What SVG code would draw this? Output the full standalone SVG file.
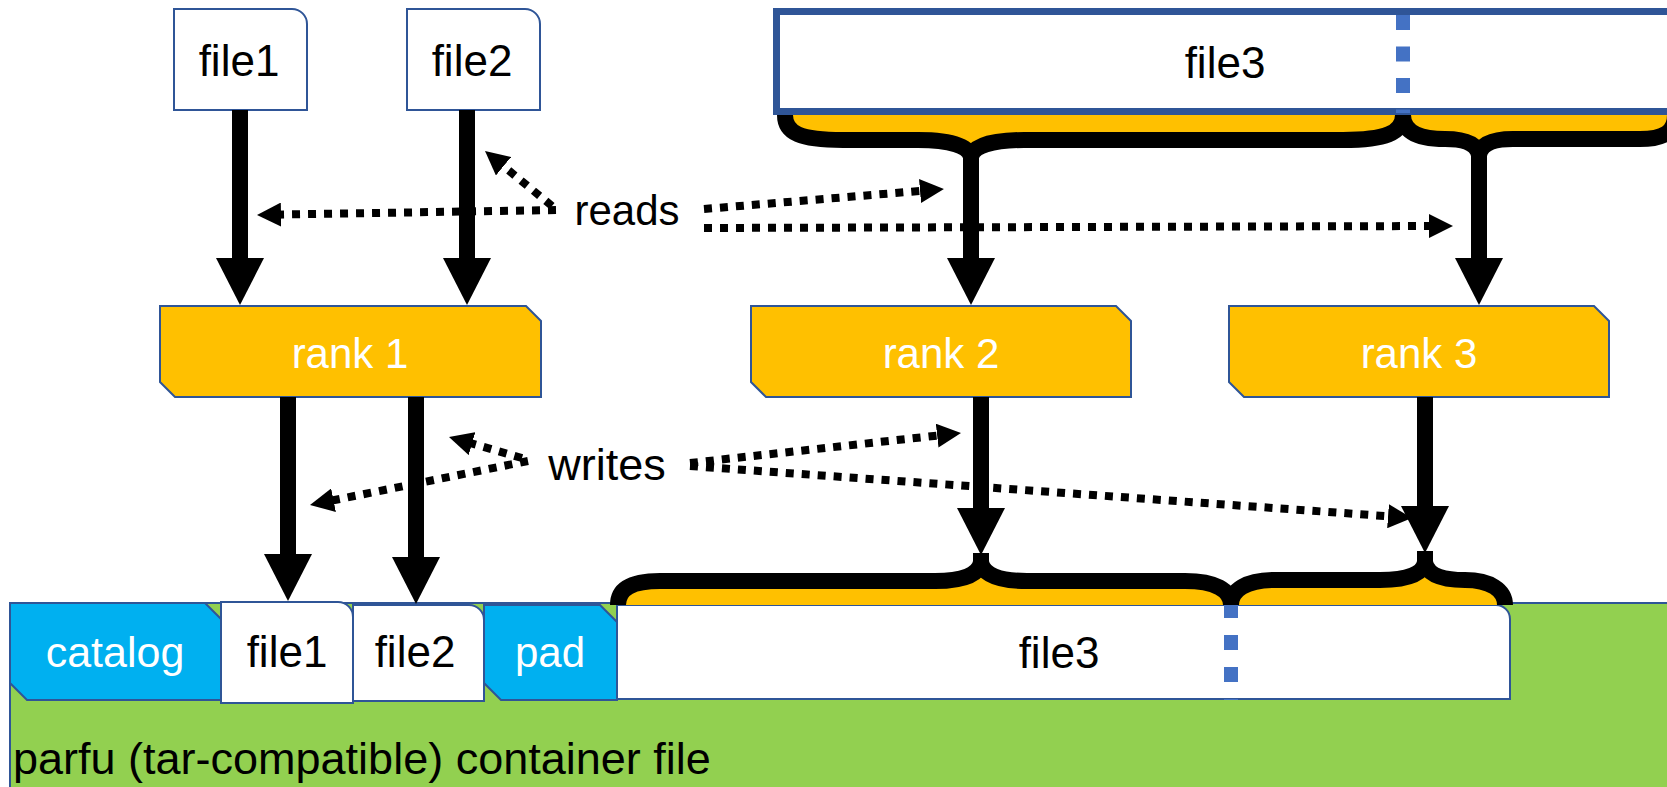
<svg xmlns="http://www.w3.org/2000/svg" width="1667" height="787" viewBox="0 0 1667 787">
  <style>
    text { font-family: "Liberation Sans", Arial, sans-serif; text-anchor: middle; }
    .lbl { fill: #000; }
    .wlbl { fill: #fff; }
    .file { fill: #fff; stroke: #2F5597; stroke-width: 2; }
    .rank { fill: #FFC000; stroke: #2F5597; stroke-width: 2; }
    .blue { fill: #00B0F0; stroke: #2F5597; stroke-width: 2; }
    .stem { stroke: #000; stroke-width: 16; fill: none; stroke-linecap: butt; }
    .brace { stroke: #000; stroke-width: 16; fill: none; stroke-linecap: butt; }
    .dot { stroke: #000; stroke-width: 8; stroke-dasharray: 8 8; fill: none; marker-end: url(#dh); }
    .dash { stroke: #4472C4; stroke-width: 14; }
  </style>
  <defs>
    <marker id="dh" markerUnits="userSpaceOnUse" markerWidth="24" markerHeight="24" viewBox="0 0 24 24" refX="9" refY="12" orient="auto">
      <path d="M0,0 L24,12 L0,24 Z" fill="#000"/>
    </marker>
  </defs>
  <rect width="1667" height="787" fill="#fff"/>

  <!-- container -->
  <g id="container">
    <rect x="10" y="603" width="1680" height="200" fill="#92D050" stroke="#2F5597" stroke-width="2"/>
    <text x="13" y="774" font-size="45" style="text-anchor:start">parfu (tar-compatible) container file</text>
  </g>

  <g id="catalog">
    <polygon class="blue" points="10,603 205,603 221,619 221,700 27,700 10,683"/>
    <text class="wlbl" x="115" y="667" font-size="43">catalog</text>
  </g>
  <g id="file1-out">
    <path class="file" d="M221,602 H338 A15,15 0 0 1 353,617 V703 H221 Z"/>
    <text class="lbl" x="287" y="667" font-size="44">file1</text>
  </g>
  <g id="file2-out">
    <path class="file" d="M353,605 H469 A15,15 0 0 1 484,620 V701 H353 Z"/>
    <text class="lbl" x="415" y="667" font-size="44">file2</text>
  </g>
  <g id="pad">
    <polygon class="blue" points="484,605 600,605 617,622 617,700 501,700 484,683"/>
    <text class="wlbl" x="550" y="667" font-size="42">pad</text>
  </g>
  <g id="file3-out">
    <path class="file" d="M617,605 H1496 A14,14 0 0 1 1510,619 V699 H617 Z"/>
    <line class="dash" x1="1231" y1="603" x2="1231" y2="700" stroke-dasharray="15 17"/>
    <text class="lbl" x="1059" y="668" font-size="44">file3</text>
  </g>

  <!-- top files -->
  <g id="file1-in">
    <path class="file" d="M174,9 H292 A15,15 0 0 1 307,24 V110 H174 Z"/>
    <text class="lbl" x="239" y="76" font-size="44">file1</text>
  </g>
  <g id="file2-in">
    <path class="file" d="M407,9 H525 A15,15 0 0 1 540,24 V110 H407 Z"/>
    <text class="lbl" x="472" y="76" font-size="44">file2</text>
  </g>
  <g id="file3-in">
    <rect x="776.5" y="11.5" width="920" height="100" fill="#fff" stroke="#2F5597" stroke-width="7"/>
    <line class="dash" x1="1403" y1="15" x2="1403" y2="113" stroke-dasharray="15 16.5"/>
    <text class="lbl" x="1225" y="78" font-size="44">file3</text>
  </g>

  <!-- ranks -->
  <g id="rank1">
    <polygon class="rank" points="160,306 526,306 541,321 541,397 175,397 160,382"/>
    <text class="wlbl" x="350" y="368" font-size="42">rank 1</text>
  </g>
  <g id="rank2">
    <polygon class="rank" points="751,306 1116,306 1131,321 1131,397 766,397 751,382"/>
    <text class="wlbl" x="941" y="368" font-size="42">rank 2</text>
  </g>
  <g id="rank3">
    <polygon class="rank" points="1229,306 1594,306 1609,321 1609,397 1244,397 1229,382"/>
    <text class="wlbl" x="1419" y="368" font-size="42">rank 3</text>
  </g>

  <!-- labels -->
  <g id="reads-label">
    <text class="lbl" x="627" y="225" font-size="42">reads</text>
  </g>
  <g id="writes-label">
    <text class="lbl" x="607" y="480" font-size="45">writes</text>
  </g>

  <g id="connectors">
    <!-- top braces -->
    <path fill="#FFC000" d="M785,115 C785,133 800,140 843,140 L918,140 C950,140 969,146 971,157 C973,146 992,140 1024,140 L1343,140 C1385,140 1403,133 1403,115 C1403,133 1420,139 1445,139 C1465,139 1477,144 1479,155 C1481,144 1493,139 1513,139 L1640,139 C1664,139 1675,132 1675,115 Z"/>
    <path class="brace" d="M785,115 C785,133 800,140 843,140 L918,140 C950,140 969,146 971,157"/>
    <path class="brace" d="M971,157 C973,146 992,140 1024,140 L1343,140 C1385,140 1403,133 1403,115"/>
    <path class="brace" d="M1403,115 C1403,133 1420,139 1445,139 C1465,139 1477,144 1479,155"/>
    <path class="brace" d="M1479,155 C1481,144 1493,139 1513,139 L1640,139 C1664,139 1675,132 1675,115"/>

    <!-- bottom braces -->
    <path fill="#FFC000" d="M618,605 C618,588 633,581 660,581 L935,581 C962,581 979,575 981,562 C983,575 1000,581 1027,581 L1185,581 C1215,581 1231,590 1231,605 C1231,590 1246,580 1275,580 L1380,580 C1408,580 1423,574 1425,562 C1427,574 1440,580 1465,580 C1490,580 1505,590 1505,605 Z"/>
    <path class="brace" d="M618,605 C618,588 633,581 660,581 L935,581 C962,581 979,575 981,562"/>
    <path class="brace" d="M981,562 C983,575 1000,581 1027,581 L1185,581 C1215,581 1231,590 1231,605"/>
    <path class="brace" d="M1231,605 C1231,590 1246,580 1275,580 L1380,580 C1408,580 1423,574 1425,562"/>
    <path class="brace" d="M1425,562 C1427,574 1440,580 1465,580 C1490,580 1505,590 1505,605"/>
    <line class="stem" x1="981" y1="553" x2="981" y2="564"/>
    <line class="stem" x1="1425" y1="551" x2="1425" y2="564"/>

    <!-- solid arrows top -->
    <line class="stem" x1="240" y1="110" x2="240" y2="260"/>
    <polygon points="216,258 264,258 240,305"/>
    <line class="stem" x1="467" y1="110" x2="467" y2="260"/>
    <polygon points="443,258 491,258 467,305"/>
    <line class="stem" x1="971" y1="155" x2="971" y2="260"/>
    <polygon points="947,258 995,258 971,305"/>
    <line class="stem" x1="1479" y1="153" x2="1479" y2="260"/>
    <polygon points="1455,258 1503,258 1479,305"/>

    <!-- solid arrows bottom -->
    <line class="stem" x1="288" y1="397" x2="288" y2="556"/>
    <polygon points="264,554 312,554 288,601"/>
    <line class="stem" x1="416" y1="397" x2="416" y2="559"/>
    <polygon points="392,557 440,557 416,604"/>
    <line class="stem" x1="981" y1="397" x2="981" y2="510"/>
    <polygon points="957,508 1005,508 981,555"/>
    <line class="stem" x1="1425" y1="397" x2="1425" y2="508"/>
    <polygon points="1401,506 1449,506 1425,553"/>

    <!-- reads dotted arrows -->
    <path class="dot" d="M556,210 L272,214.7"/>
    <path class="dot" d="M552,206 L496.6,160.5"/>
    <path class="dot" d="M704,209 L929,190.2"/>
    <path class="dot" d="M704,228 L1438,226"/>

    <!-- writes dotted arrows -->
    <path class="dot" d="M528,461 L324.7,502"/>
    <path class="dot" d="M522,458 L463.4,441.1"/>
    <path class="dot" d="M690,463 L946.1,434.6"/>
    <path class="dot" d="M690,466 L1397,516.9"/>
  </g>
</svg>
